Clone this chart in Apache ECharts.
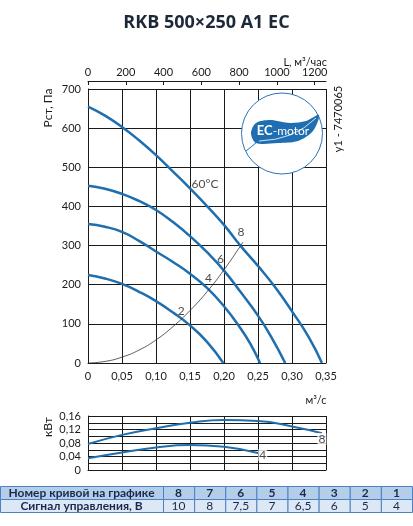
<!DOCTYPE html>
<html>
<head>
<meta charset="utf-8">
<script src="https://cdn.jsdelivr.net/npm/echarts@6/dist/echarts.min.js"></script>
<style>
html, body { margin: 0; padding: 0; background: #fff; }
#chart { width: 413px; height: 526px; }
</style>
</head>
<body>
<div id="chart"></div>
<script>
// кривые давления, [Q м3/с, P Па]
var curve8 = [[0, 655], [0.025, 632], [0.05, 603], [0.075, 569], [0.10, 531], [0.125, 489], [0.15, 446], [0.175, 401], [0.20, 353], [0.225, 298], [0.25, 248], [0.275, 194], [0.30, 132], [0.325, 65], [0.344, 0]];
var curve6 = [[0, 453], [0.025, 445], [0.05, 432], [0.075, 414], [0.10, 391], [0.125, 360], [0.15, 324], [0.175, 283], [0.20, 236], [0.225, 180], [0.25, 121], [0.27, 65], [0.29, 0]];
var curve4 = [[0, 355], [0.025, 348], [0.05, 335], [0.075, 312], [0.10, 285], [0.125, 258], [0.15, 228], [0.175, 192], [0.20, 145], [0.225, 87], [0.24, 45], [0.253, 0]];
var curve2 = [[0, 225], [0.025, 216], [0.05, 202], [0.075, 182], [0.10, 158], [0.125, 129], [0.15, 96], [0.175, 54], [0.199, 0]];
// характеристика сети
var systemCurve = [[0, 0], [0.025, 4], [0.05, 15], [0.075, 33], [0.10, 59], [0.125, 93], [0.15, 134], [0.175, 182], [0.20, 238], [0.225, 301], [0.228, 309]];
// мощность, кВт
var power8 = [[0, 0.077], [0.05, 0.104], [0.10, 0.124], [0.15, 0.140], [0.20, 0.148], [0.25, 0.145], [0.30, 0.129], [0.344, 0.109]];
var power4 = [[0, 0.035], [0.05, 0.052], [0.10, 0.067], [0.15, 0.074], [0.20, 0.069], [0.253, 0.049]];
// подписи кривых
var curveLabels = [
    { name: '2', value: [0.137, 133] },
    { name: '4', value: [0.177, 216] },
    { name: '6', value: [0.195, 266] },
    { name: '8', value: [0.225, 335] },
    { name: '60°C', value: [0.172, 457] }
];
var powerLabels = [
    { name: '8', value: [0.344, 0.092] },
    { name: '4', value: [0.257, 0.044] }
];
// таблица
var curveNumbers = ['8', '7', '6', '5', '4', '3', '2', '1'];
var signals = ['10', '8', '7,5', '7', '6,5', '6', '5', '4'];
var tableTitles = ['Номер кривой на графике', 'Сигнал управления, В'];

var FONT = 'Lato';
var BLUE = '#1f6eae';
var INK = '#1a1a1a';

function comma(v, d) {
    return v === 0 ? '0' : v.toFixed(d).replace('.', ',');
}

var chart = echarts.init(document.getElementById('chart'));

// таблица из прямоугольников
var tableGraphics = [];
var rowTop = [486, 499];
var rowH = 13;
var firstW = 163;
var colW = (412 - firstW) / curveNumbers.length;
for (var r = 0; r < 2; r++) {
    var rowValues = r === 0 ? curveNumbers : signals;
    var bg = r === 0 ? '#b4cde8' : '#dce8f5';
    tableGraphics.push({
        type: 'rect',
        shape: { x: 0.5, y: rowTop[r] + 0.5, width: firstW, height: rowH },
        style: { fill: bg, stroke: '#4d82c2', lineWidth: 1 }
    });
    tableGraphics.push({
        type: 'text',
        x: firstW / 2, y: rowTop[r] + rowH / 2 + 1,
        style: { text: tableTitles[r], fill: '#1b2a4c', font: 'bold 12px ' + FONT, align: 'center', verticalAlign: 'middle' }
    });
    for (var c = 0; c < rowValues.length; c++) {
        var x0 = firstW + c * colW;
        tableGraphics.push({
            type: 'rect',
            shape: { x: x0 + 0.5, y: rowTop[r] + 0.5, width: colW, height: rowH },
            style: { fill: bg, stroke: '#4d82c2', lineWidth: 1 }
        });
        tableGraphics.push({
            type: 'text',
            x: x0 + colW / 2, y: rowTop[r] + rowH / 2 + 1,
            style: { text: rowValues[c], fill: '#1b2a4c', font: (r === 0 ? 'bold ' : '') + '12px ' + FONT, align: 'center', verticalAlign: 'middle' }
        });
    }
}

var option = {
    animation: false,
    textStyle: { fontFamily: FONT },
    title: {
        text: 'RKB 500×250 A1 EC',
        left: 'center',
        top: 9,
        textStyle: { fontFamily: 'Open Sans', fontWeight: 'bold', fontSize: 18, color: '#1e2838' }
    },
    grid: [
        { left: 88, top: 89, width: 238, height: 274 },
        { left: 88, top: 416, width: 238, height: 54 }
    ],
    xAxis: [
        {
            type: 'value', gridIndex: 0, min: 0, max: 0.35, interval: 0.05,
            axisLine: { show: true, lineStyle: { color: INK } },
            axisTick: { show: false },
            axisLabel: { color: INK, fontSize: 11, margin: 8, formatter: function (v) { return comma(v, 2); } },
            splitLine: { show: true, lineStyle: { color: INK, width: 1 } }
        },
        {
            type: 'value', gridIndex: 0, position: 'top', offset: 8, min: 0, max: 1260, interval: 200,
            axisLine: { show: true, onZero: false, lineStyle: { color: INK } },
            axisTick: { show: true, inside: true, length: 4, lineStyle: { color: INK } },
            axisLabel: { color: INK, fontSize: 11, margin: 3, showMaxLabel: false, formatter: function (v) { return String(v); } },
            splitLine: { show: false }
        },
        {
            type: 'value', gridIndex: 1, min: 0, max: 0.35, interval: 0.05,
            axisLine: { show: true, lineStyle: { color: INK } },
            axisTick: { show: false },
            axisLabel: { show: false },
            splitLine: { show: true, lineStyle: { color: INK, width: 1 } }
        }
    ],
    yAxis: [
        {
            type: 'value', gridIndex: 0, min: 0, max: 700, interval: 100,
            axisLine: { show: true, lineStyle: { color: INK } },
            axisTick: { show: false },
            axisLabel: { color: INK, fontSize: 11, margin: 7 },
            splitLine: { show: true, lineStyle: { color: INK, width: 1 } }
        },
        {
            type: 'value', gridIndex: 1, min: 0, max: 0.16, interval: 0.02,
            axisLine: { show: true, lineStyle: { color: INK } },
            axisTick: { show: false },
            axisLabel: {
                color: INK, fontSize: 11, margin: 7,
                formatter: function (v) { return Math.round(v * 100) % 4 === 0 ? comma(v, 2) : ''; }
            },
            splitLine: { show: true, lineStyle: { color: INK, width: 1 } }
        }
    ],
    series: [
        { name: '8', type: 'line', xAxisIndex: 0, yAxisIndex: 0, data: curve8, smooth: true, showSymbol: false, lineStyle: { color: BLUE, width: 2.5 } },
        { name: '6', type: 'line', xAxisIndex: 0, yAxisIndex: 0, data: curve6, smooth: true, showSymbol: false, lineStyle: { color: BLUE, width: 2.5 } },
        { name: '4', type: 'line', xAxisIndex: 0, yAxisIndex: 0, data: curve4, smooth: true, showSymbol: false, lineStyle: { color: BLUE, width: 2.5 } },
        { name: '2', type: 'line', xAxisIndex: 0, yAxisIndex: 0, data: curve2, smooth: true, showSymbol: false, lineStyle: { color: BLUE, width: 2.5 } },
        { name: 'сеть', type: 'line', xAxisIndex: 0, yAxisIndex: 0, data: systemCurve, smooth: true, showSymbol: false, lineStyle: { color: '#333', width: 0.8 } },
        {
            name: 'подписи', type: 'scatter', xAxisIndex: 0, yAxisIndex: 0, data: curveLabels, symbolSize: 0,
            label: { show: true, position: 'inside', formatter: '{b}', color: INK, fontSize: 12 }
        },
        { name: 'N8', type: 'line', xAxisIndex: 2, yAxisIndex: 1, data: power8, smooth: true, showSymbol: false, lineStyle: { color: BLUE, width: 2 } },
        { name: 'N4', type: 'line', xAxisIndex: 2, yAxisIndex: 1, data: power4, smooth: true, showSymbol: false, lineStyle: { color: BLUE, width: 2 } },
        {
            name: 'подписи N', type: 'scatter', xAxisIndex: 2, yAxisIndex: 1, data: powerLabels, symbolSize: 0, z: 5,
            label: { show: true, position: 'inside', formatter: '{b}', color: INK, fontSize: 12, backgroundColor: '#fff', padding: [0, 1] }
        }
    ],
    graphic: [
        { type: 'text', x: 48, y: 108, rotation: Math.PI / 2, style: { text: 'Pст, Па', fill: INK, font: '12px ' + FONT, align: 'center', verticalAlign: 'middle' } },
        { type: 'text', x: 48, y: 427, rotation: Math.PI / 2, style: { text: 'кВт', fill: INK, font: '12px ' + FONT, align: 'center', verticalAlign: 'middle' } },
        { type: 'text', x: 327, y: 62, style: { text: 'L, м³/час', fill: INK, font: '11px ' + FONT, align: 'right', verticalAlign: 'middle' } },
        { type: 'text', x: 316, y: 400, style: { text: 'м³/с', fill: INK, font: '11px ' + FONT, align: 'center', verticalAlign: 'middle' } },
        { type: 'text', x: 338, y: 119, rotation: Math.PI / 2, style: { text: 'y1 - 7470065', fill: INK, font: '11px ' + FONT, align: 'center', verticalAlign: 'middle' } },
        // логотип EC-motor
        { type: 'circle', shape: { cx: 282, cy: 133.5, r: 40.5 }, style: { fill: '#fff', stroke: '#2a72b5', lineWidth: 1 }, z: 10 },
        {
            type: 'polygon', z: 11,
            shape: {
                points: [[256, 143], [251, 133], [256, 123], [270, 120], [290, 123], [306, 121], [319, 115], [313, 131], [298, 141], [278, 143]],
                smooth: 0.3
            },
            style: { fill: '#1f6eb2' }
        },
        { type: 'bezierCurve', z: 11, shape: { x1: 257, y1: 142, cpx1: 251, cpy1: 147, x2: 246, y2: 151 }, style: { fill: null, stroke: '#1f6eb2', lineWidth: 1 } },
        { type: 'bezierCurve', z: 12, shape: { x1: 259, y1: 141, cpx1: 294, cpy1: 140, x2: 316, y2: 118 }, style: { fill: null, stroke: '#fff', lineWidth: 0.8 } },
        {
            type: 'text', x: 283, y: 131, z: 12,
            style: {
                text: '{b|EC}{r|-motor}', align: 'center', verticalAlign: 'middle',
                rich: {
                    b: { fill: '#fff', font: 'bold 13px ' + FONT },
                    r: { fill: '#fff', font: '12px ' + FONT }
                }
            }
        }
    ].concat(tableGraphics)
};

chart.setOption(option);
</script>
</body>
</html>
